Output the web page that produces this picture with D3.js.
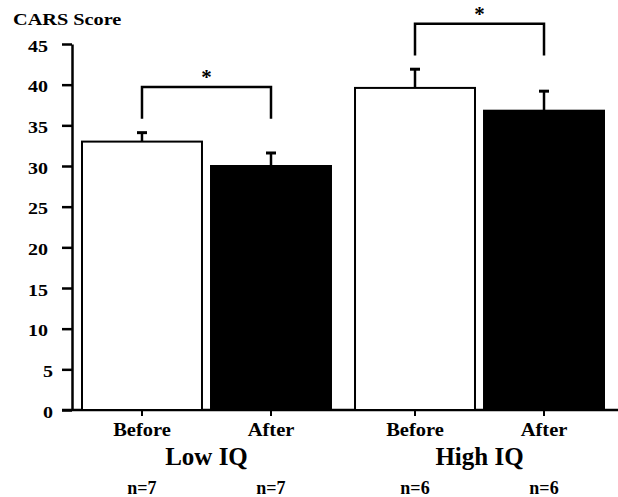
<!DOCTYPE html>
<html>
<head>
<meta charset="utf-8">
<script src="https://cdn.jsdelivr.net/npm/d3@7"></script>
<style>
  body { margin: 0; background: #fff; }
</style>
</head>
<body>
<div id="chart"></div>
<script>
// values
var groups = ["Low IQ", "High IQ"];
var conditions = ["Before", "After"];
var lowIQMeans = [33.0, 30.0];
var lowIQErrors = [1.1, 1.6];
var highIQMeans = [39.6, 36.8];
var highIQErrors = [2.3, 2.4];
var sampleSizes = [[7, 7], [6, 6]];
var yTicks = [0, 5, 10, 15, 20, 25, 30, 35, 40, 45];

var means = [lowIQMeans, highIQMeans];
var errors = [lowIQErrors, highIQErrors];

var width = 618, height = 497;
var serif = "'Liberation Serif'";

var svg = d3.select("#chart").append("svg")
    .attr("width", width)
    .attr("height", height);

var y = d3.scaleLinear().domain([0, 45]).range([410, 44]);

var x0 = d3.scaleBand().domain(groups).range([82, 604]).paddingInner(0.088);
var x1 = d3.scaleBand().domain(conditions).range([0, x0.bandwidth()]).paddingInner(0.07);

var data = [];
groups.forEach(function (g, gi) {
    conditions.forEach(function (c, ci) {
        data.push({ group: g, cond: c, mean: means[gi][ci], err: errors[gi][ci], n: sampleSizes[gi][ci] });
    });
});

function cx(d) { return x0(d.group) + x1(d.cond) + x1.bandwidth() / 2; }

function label(sel, size) {
    return sel.style("font-family", serif)
        .style("font-weight", "bold")
        .style("font-size", size + "px")
        .attr("fill", "#000");
}

// y axis
var yAxis = svg.append("g")
    .attr("transform", "translate(72,0)")
    .call(d3.axisLeft(y).tickValues(yTicks).tickSize(10).tickSizeOuter(0).tickPadding(14));
yAxis.select(".domain").attr("stroke-width", 2.5);
yAxis.selectAll(".tick line").attr("stroke-width", 2.5);
// single digit labels sit a bit closer to the axis in the original
label(yAxis.selectAll(".tick text"), 16)
    .attr("x", function (d) { return (d < 10 ? -19 : -24) / 1.25; })
    .attr("dy", "0.45em")
    .attr("transform", "scale(1.25,1)");

// x axis line
svg.append("line")
    .attr("x1", 62).attr("x2", width)
    .attr("y1", y(0)).attr("y2", y(0))
    .attr("stroke", "#000").attr("stroke-width", 2.5);

// error bars (upper only)
var eb = svg.append("g").selectAll("g").data(data).enter().append("g");
eb.append("line")
    .attr("x1", cx).attr("x2", cx)
    .attr("y1", function (d) { return y(d.mean); })
    .attr("y2", function (d) { return y(d.mean + d.err); })
    .attr("stroke", "#000").attr("stroke-width", 2.5);
eb.append("line")
    .attr("x1", function (d) { return cx(d) - 5; })
    .attr("x2", function (d) { return cx(d) + 5; })
    .attr("y1", function (d) { return y(d.mean + d.err); })
    .attr("y2", function (d) { return y(d.mean + d.err); })
    .attr("stroke", "#000").attr("stroke-width", 3);

// bars
svg.append("g").selectAll("rect").data(data).enter().append("rect")
    .attr("x", function (d) { return x0(d.group) + x1(d.cond); })
    .attr("y", function (d) { return y(d.mean); })
    .attr("width", x1.bandwidth())
    .attr("height", function (d) { return y(0) - y(d.mean); })
    .attr("fill", function (d) { return d.cond === "Before" ? "#fff" : "#000"; })
    .attr("stroke", "#000")
    .attr("stroke-width", 2);

// small ticks under each bar
svg.append("g").selectAll("line").data(data).enter().append("line")
    .attr("x1", cx).attr("x2", cx)
    .attr("y1", y(0)).attr("y2", y(0) + 6)
    .attr("stroke", "#000").attr("stroke-width", 2);

// significance brackets
groups.forEach(function (g) {
    var rows = data.filter(function (d) { return d.group === g; });
    var legBottom = d3.max(rows, function (d) { return d.mean + d.err; }) + 1.7;
    var top = legBottom + 3.9;
    var xa = cx(rows[0]), xb = cx(rows[1]);
    var path = d3.path();
    path.moveTo(xa, y(legBottom));
    path.lineTo(xa, y(top));
    path.lineTo(xb, y(top));
    path.lineTo(xb, y(legBottom));
    svg.append("path").attr("d", path.toString())
        .attr("fill", "none").attr("stroke", "#000").attr("stroke-width", 2.5);
    label(svg.append("text"), 21)
        .attr("x", (xa + xb) / 2).attr("y", y(top) - 3)
        .attr("text-anchor", "middle")
        .text("*");
});

// category labels
label(svg.append("g").selectAll("text").data(data).enter().append("text"), 19)
    .attr("transform", function (d) { return "translate(" + cx(d) + ",436) scale(1.08,1)"; })
    .attr("text-anchor", "middle")
    .text(function (d) { return d.cond; });

// group labels
label(svg.append("g").selectAll("text").data(groups).enter().append("text"), 25)
    .attr("x", function (g) { return x0(g) + x0.bandwidth() / 2; })
    .attr("y", 465)
    .attr("text-anchor", "middle")
    .text(function (g) { return g; });

// sample sizes
label(svg.append("g").selectAll("text").data(data).enter().append("text"), 18)
    .attr("x", cx)
    .attr("y", 494)
    .attr("text-anchor", "middle")
    .text(function (d) { return "n=" + d.n; });

// y axis title
label(svg.append("text"), 17.5)
    .attr("transform", "translate(13,25) scale(1.16,1)")
    .text("CARS Score");
</script>
</body>
</html>
